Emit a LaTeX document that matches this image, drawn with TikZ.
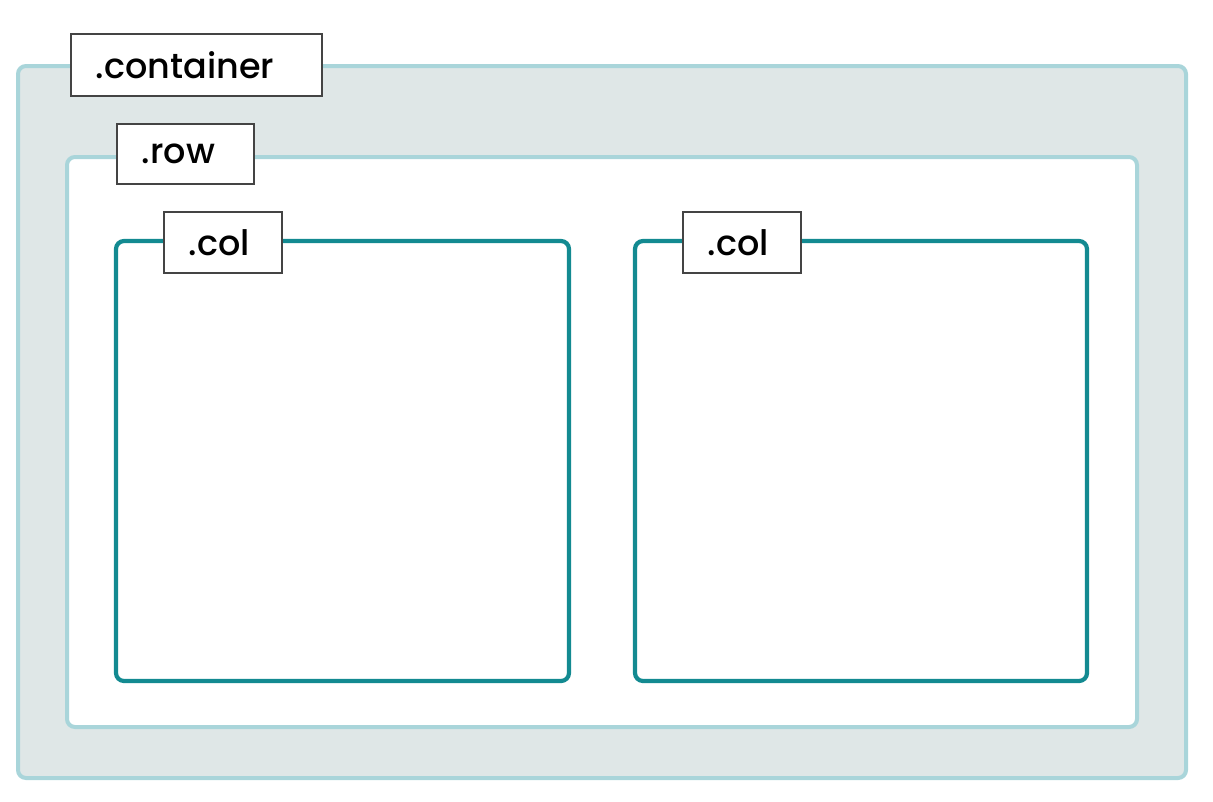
\documentclass[tikz,border=0pt]{standalone}
\usepackage{fontspec}
\setmainfont{Poppins}[UprightFont=* Medium]
\definecolor{shellfill}{HTML}{DFE7E7}
\definecolor{shellline}{HTML}{A9D5DA}
\definecolor{colline}{HTML}{138A91}
\definecolor{tagline}{HTML}{444444}
\begin{document}
\begin{tikzpicture}[x=1pt,y=-1pt,
  shell/.style={draw=shellline,line width=4pt,rounded corners=8pt},
  colbox/.style={draw=colline,line width=4.2pt,rounded corners=8pt,fill=white},
  tag/.style={draw=tagline,line width=1.8pt,fill=white,font=\fontsize{35}{37}\selectfont,
    inner xsep=25pt,inner ysep=0pt,align=left,anchor=north west}]
\useasboundingbox (0,0) rectangle (1213,801);
% outer container and row
\draw[shell,fill=shellfill] (18,66) rectangle (1186,778);
\draw[shell,fill=white] (67,157) rectangle (1137,727);
% two columns
\draw[colbox] (116,241) rectangle (569,681);
\draw[colbox] (635,241) rectangle (1087,681);
% name tags
\node[tag,text width=201pt,minimum height=62pt] (tcont) at (70,33) {.container};
\node[tag,text width=87pt,minimum height=60pt] (trow) at (116,123) {.row};
\node[tag,text width=68pt,minimum height=61pt] (tcol1) at (163,211) {.col};
\node[tag,text width=68pt,minimum height=61pt] (tcol2) at (682,211) {.col};
\end{tikzpicture}
\end{document}
